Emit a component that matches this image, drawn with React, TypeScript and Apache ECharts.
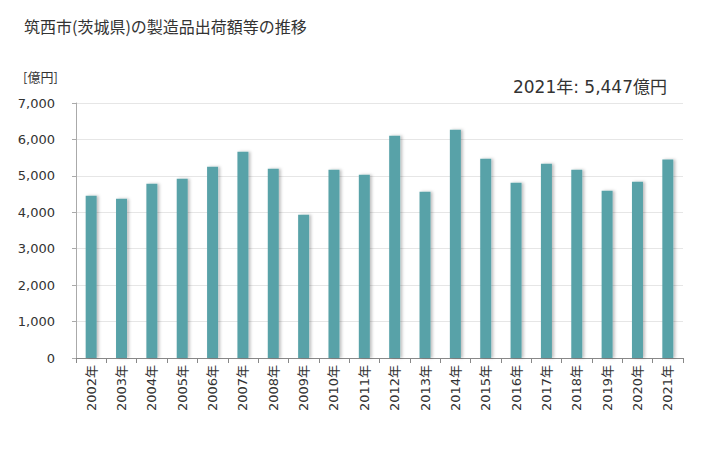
import React, { useEffect, useRef } from "react";
import * as echarts from "echarts";

const years = [
  "2002年", "2003年", "2004年", "2005年", "2006年", "2007年", "2008年", "2009年", "2010年", "2011年",
  "2012年", "2013年", "2014年", "2015年", "2016年", "2017年", "2018年", "2019年", "2020年", "2021年",
];
const values = [
  4456, 4374, 4786, 4923, 5252, 5664, 5197, 3935, 5170, 5033,
  6103, 4566, 6268, 5472, 4813, 5335, 5170, 4594, 4841, 5447,
];
const titleText = "筑西市(茨城県)の製造品出荷額等の推移";
const unitText = "[億円]";
const noteText = "2021年: 5,447億円";

const FONT = "'DejaVu Sans', 'Noto Sans CJK JP', sans-serif";
const CJK = "'Noto Sans CJK JP', sans-serif";

export default function App() {
  const ref = useRef<HTMLDivElement>(null);
  useEffect(() => {
    if (!ref.current) return;
    const chart = echarts.init(ref.current, null, { renderer: "svg" });
    chart.setOption({
      animation: false,
      backgroundColor: "#ffffff",
      textStyle: { fontFamily: FONT },
      title: [
        {
          text: titleText,
          left: 11,
          top: 5,
          textStyle: { fontSize: 16, fontWeight: "normal", color: "#333", fontFamily: CJK },
        },
        {
          text: unitText,
          left: 10,
          top: 57,
          textStyle: { fontSize: 13, fontWeight: "normal", color: "#333", fontFamily: CJK },
        },
        {
          text: noteText,
          right: 48,
          top: 65,
          textStyle: { fontSize: 17, fontWeight: "normal", color: "#333", fontFamily: FONT },
        },
      ],
      grid: { left: 68, right: 37, top: 95, bottom: 84, containLabel: false },
      xAxis: {
        type: "category",
        data: years,
        boundaryGap: true,
        axisLine: { lineStyle: { color: "#888" } },
        axisTick: { show: true, alignWithLabel: false, lineStyle: { color: "#888" }, length: 5 },
        axisLabel: {
          rotate: 90,
          color: "#333",
          fontSize: 13,
          margin: 7,
          fontFamily: FONT,
        },
      },
      yAxis: {
        type: "value",
        min: 0,
        max: 7000,
        interval: 1000,
        axisLine: { show: true, lineStyle: { color: "#aaa" } },
        axisTick: { show: true, length: 4, lineStyle: { color: "#aaa" } },
        splitLine: { lineStyle: { color: "#e6e6e6" } },
        axisLabel: {
          color: "#333",
          fontSize: 13,
          margin: 21,
          fontFamily: FONT,
          formatter: (v: number) => v.toLocaleString("en-US"),
        },
      },
      series: [
        {
          type: "bar",
          data: values,
          barWidth: 11,
          itemStyle: {
            color: "#58a2a8",
            shadowColor: "rgba(0,0,0,0.25)",
            shadowBlur: 3,
            shadowOffsetX: 2,
            shadowOffsetY: 0,
          },
        },
      ],
    });
    return () => chart.dispose();
  }, []);
  return <div ref={ref} style={{ width: 712, height: 434 }} />;
}
